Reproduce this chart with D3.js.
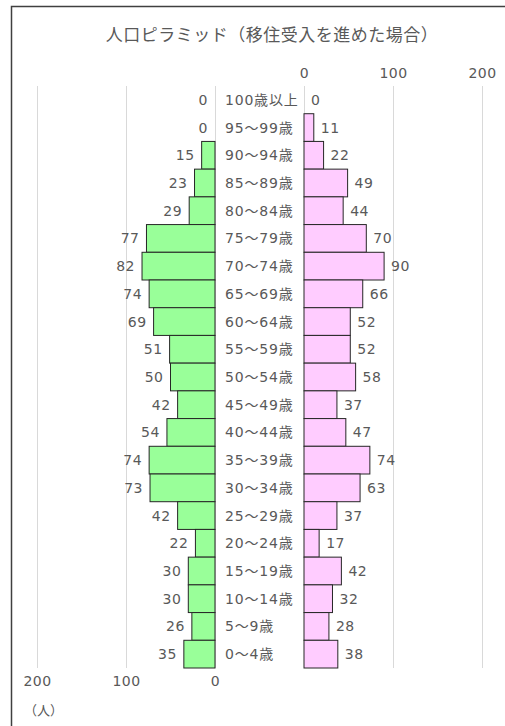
<!DOCTYPE html>
<html><head><meta charset="utf-8">
<script src="https://cdn.jsdelivr.net/npm/d3@7"></script>
<style>
body{margin:0;background:#fff;}
svg{display:block;}
text{font-family:"DejaVu Sans","Noto Sans CJK JP",sans-serif;fill:#595959;}
</style></head>
<body>
<script>
const title = "人口ピラミッド（移住受入を進めた場合）";
const categories = ["100歳以上","95～99歳","90～94歳","85～89歳","80～84歳","75～79歳","70～74歳","65～69歳","60～64歳","55～59歳","50～54歳","45～49歳","40～44歳","35～39歳","30～34歳","25～29歳","20～24歳","15～19歳","10～14歳","5～9歳","0～4歳"];
const leftValues = [0,0,15,23,29,77,82,74,69,51,50,42,54,74,73,42,22,30,30,26,35];
const rightValues = [0,11,22,49,44,70,90,66,52,52,58,37,47,74,63,37,17,42,32,28,38];
const tickValues = [0,100,200];
const unitLabel = "（人）";

const W=505,H=726;
const svg=d3.select("body").append("svg").attr("width",W).attr("height",H);
svg.append("rect").attr("x",11.5).attr("y",6.5).attr("width",W).attr("height",H).attr("fill","#fff").attr("stroke","#404040").attr("stroke-width",1.5);

const xL=d3.scaleLinear().domain([0,200]).range([215,37]);
const xR=d3.scaleLinear().domain([0,200]).range([304,482]);
const y=d3.scaleBand().domain(categories).range([86,668]).padding(0);

svg.append("text").attr("x",272).attr("y",33).attr("text-anchor","middle").attr("dominant-baseline","central")
  .style("font-family","'Noto Sans CJK JP'").style("font-size","17px").style("letter-spacing","0.5px").text(title);

// gridlines
const grid=svg.append("g");
tickValues.forEach(t=>{
  [xL(t),xR(t)].forEach(x=>{
    grid.append("line").attr("x1",Math.round(x)+0.5).attr("x2",Math.round(x)+0.5).attr("y1",86).attr("y2",668).attr("stroke","#d9d9d9").attr("stroke-width",1);
  });
});

// axes
const axL=svg.append("g").attr("transform","translate(0,675)").call(d3.axisBottom(xL).tickValues(tickValues).tickSize(0).tickPadding(0));
const axR=svg.append("g").attr("transform","translate(0,78)").call(d3.axisTop(xR).tickValues(tickValues).tickSize(0).tickPadding(0));
[axL,axR].forEach(a=>{a.select(".domain").remove();a.selectAll("text").style("font-size","14px").style("letter-spacing","0.5px").attr("fill","#595959").style("font-family","'DejaVu Sans','Noto Sans CJK JP'");});
axL.selectAll("text").attr("dy","0.75em");

// bars
const bh=y.bandwidth();
svg.append("g").selectAll("rect").data(categories.map((c,i)=>({c,v:leftValues[i]})).filter(d=>d.v>0)).join("rect")
  .attr("x",d=>xL(d.v)).attr("y",d=>y(d.c)).attr("width",d=>xL(0)-xL(d.v)).attr("height",bh)
  .attr("fill","#99ff99").attr("stroke","#262626").attr("stroke-width",1);
svg.append("g").selectAll("rect").data(categories.map((c,i)=>({c,v:rightValues[i]})).filter(d=>d.v>0)).join("rect")
  .attr("x",d=>xR(0)).attr("y",d=>y(d.c)).attr("width",d=>xR(d.v)-xR(0)).attr("height",bh)
  .attr("fill","#ffccff").attr("stroke","#262626").attr("stroke-width",1);

// value labels
svg.append("g").selectAll("text").data(categories.map((c,i)=>({c,v:leftValues[i]}))).join("text")
  .attr("x",d=>xL(d.v)-7).attr("y",d=>y(d.c)+bh/2).attr("text-anchor","end").attr("dominant-baseline","central")
  .style("font-size","14px").style("letter-spacing","0.5px").text(d=>d.v);
svg.append("g").selectAll("text").data(categories.map((c,i)=>({c,v:rightValues[i]}))).join("text")
  .attr("x",d=>xR(d.v)+7).attr("y",d=>y(d.c)+bh/2).attr("text-anchor","start").attr("dominant-baseline","central")
  .style("font-size","14px").style("letter-spacing","0.5px").text(d=>d.v);

// category labels
svg.append("g").selectAll("text").data(categories).join("text")
  .attr("x",225).attr("y",d=>y(d)+bh/2).attr("dominant-baseline","central")
  .style("font-size","14px").style("letter-spacing","0.8px").text(d=>d);

svg.append("text").attr("x",24).attr("y",709).attr("dominant-baseline","central")
  .style("font-family","'Noto Sans CJK JP'").style("font-size","13px").text(unitLabel);
</script>
</body></html>
